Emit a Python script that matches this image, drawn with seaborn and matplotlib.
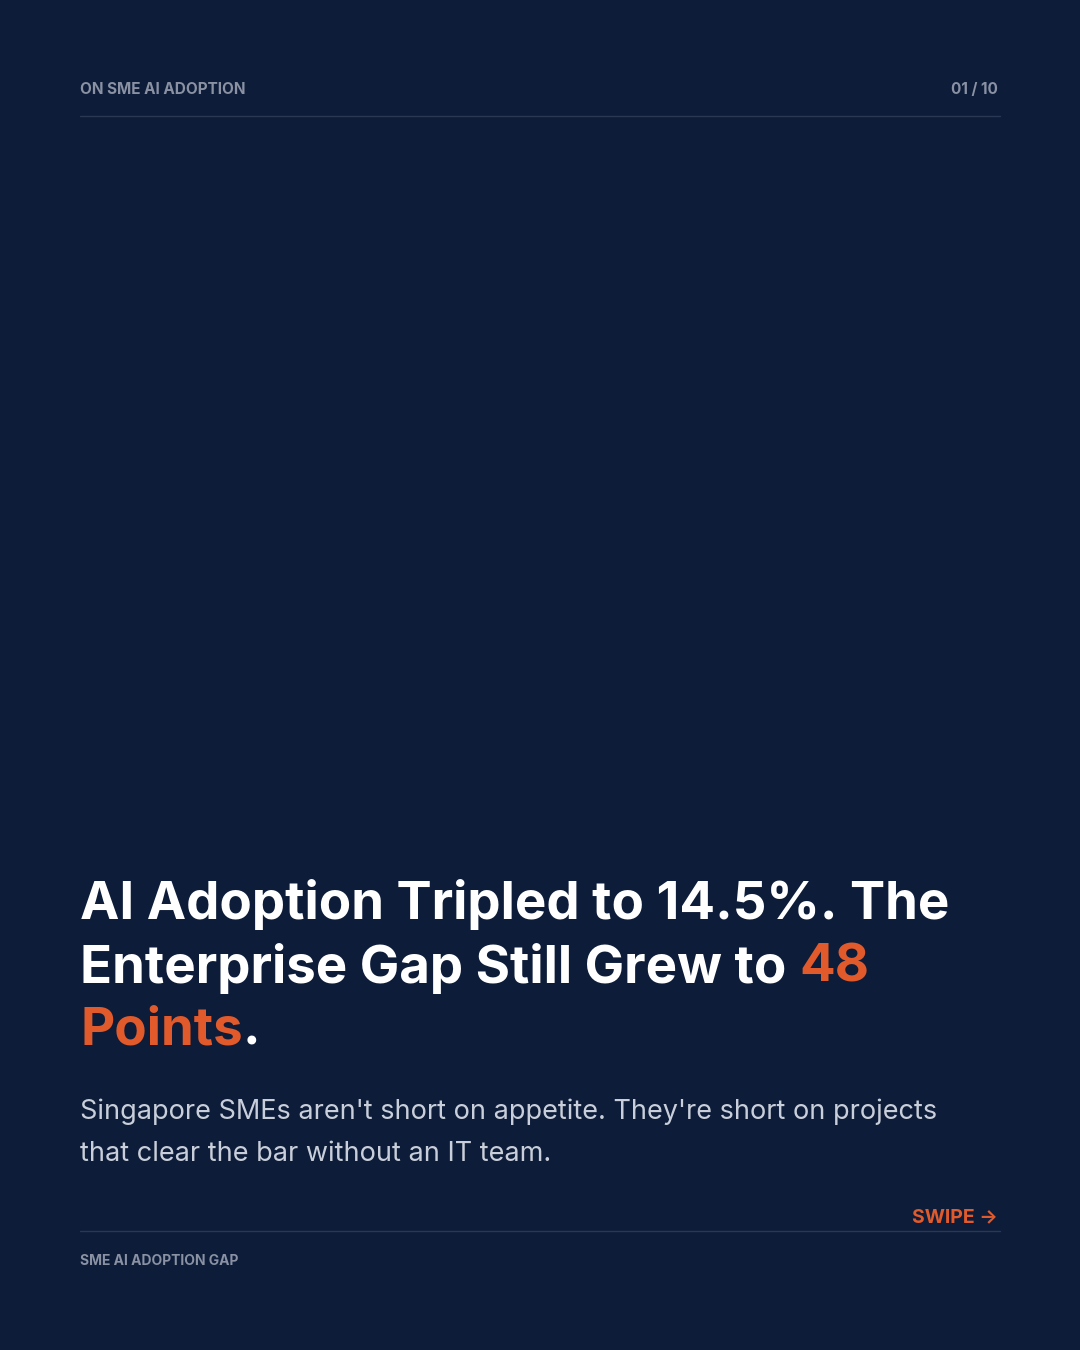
import matplotlib
matplotlib.use("Agg")
import matplotlib.pyplot as plt
import seaborn as sns

BG = "#0D1C39"
ORANGE = "#E05A2B"
GRAY = "#8991A3"
RULE = "#2B3853"
WHITE = "#FFFFFF"
SUB = "#C9CFDA"

header_left = "ON SME AI ADOPTION"
header_right = "01 / 10"
title_lines = [
    [("AI Adoption Tripled to 14.5%. The", WHITE)],
    [("Enterprise Gap Still Grew to ", WHITE), ("48", ORANGE)],
    [("Points", ORANGE), (".", WHITE)],
]
subtitle_lines = ["Singapore SMEs aren't short on appetite. They're short on projects",
                  "that clear the bar without an IT team."]
swipe = "SWIPE \u2192"
footer = "SME AI ADOPTION GAP"

sns.set_theme(style="dark", rc={"figure.facecolor": BG, "axes.facecolor": BG})
plt.rcParams['font.family'] = ['Inter', 'DejaVu Sans']

W, H = 1080, 1350
fig = plt.figure(figsize=(W / 100, H / 100), dpi=100)
ax = fig.add_axes([0, 0, 1, 1])
ax.set_xlim(0, W); ax.set_ylim(H, 0); ax.axis("off")

def txt(x, y, s, **kw):
    return ax.text(x, y, s, **kw)

txt(80, 90, header_left, color=GRAY, fontsize=11, fontweight="bold", va="center")
txt(998, 90, header_right, color=GRAY, fontsize=11, fontweight="bold", va="center", ha="right")
ax.plot([80, 1000], [116, 116], color=RULE, lw=1)

fig.canvas.draw()
r = fig.canvas.get_renderer()
inv = ax.transData.inverted()
y0 = 905
for i, parts in enumerate(title_lines):
    x = 80
    for s, c in parts:
        t = txt(x, y0 + i * 63, s, color=c, fontsize=38, fontweight="bold", va="center")
        bb = t.get_window_extent(renderer=r)
        x = inv.transform((bb.x1, bb.y0))[0]

for i, s in enumerate(subtitle_lines):
    txt(80, 1112 + i * 42, s, color=SUB, fontsize=19.5, va="center")

txt(998, 1217, swipe, color=ORANGE, fontsize=14, fontweight="bold", va="center", ha="right")
ax.plot([80, 1000], [1231, 1231], color=RULE, lw=1)
txt(80, 1261, footer, color=GRAY, fontsize=10, fontweight="bold", va="center")

fig.savefig("out.png", dpi=100, facecolor=BG)
